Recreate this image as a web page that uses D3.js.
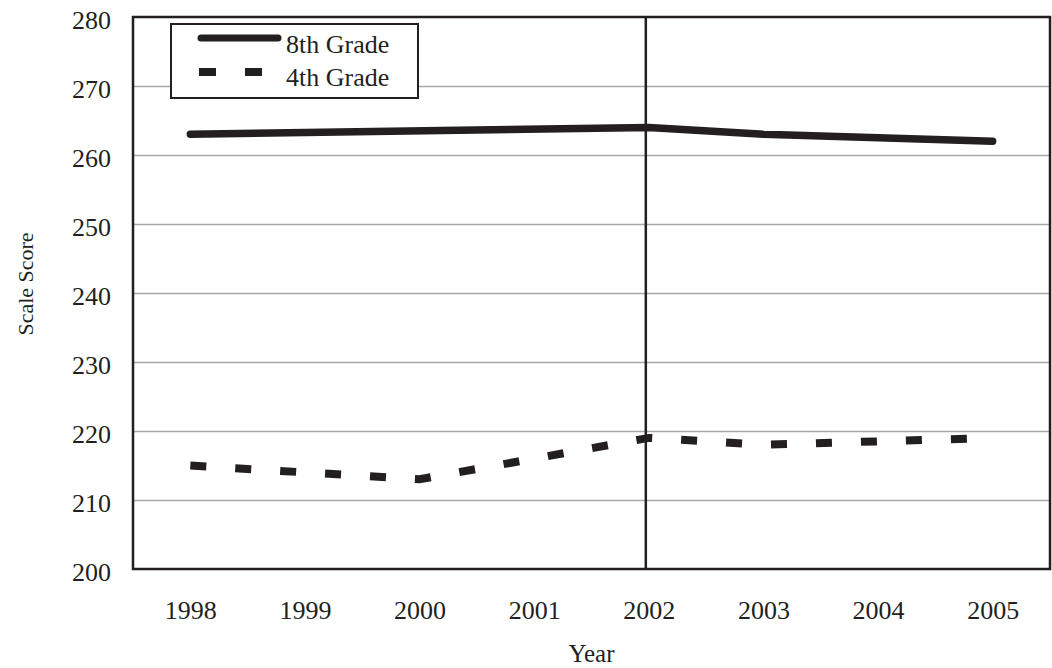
<!DOCTYPE html>
<html>
<head>
<meta charset="utf-8">
<script src="https://cdn.jsdelivr.net/npm/d3@7"></script>
<style>
  html, body { margin: 0; padding: 0; background: #fff; }
  svg { display: block; }
  svg text { font-family: "Liberation Serif", "Times New Roman", Times, "DejaVu Serif", serif; }
</style>
</head>
<body>
<script>
// data (null = year not assessed)
const years = ["1998", "1999", "2000", "2001", "2002", "2003", "2004", "2005"];
const grade8 = [263, null, null, null, 264, 263, null, 262];
const grade4 = [215, null, 213, null, 219, 218, null, 219];
const yTicks = [200, 210, 220, 230, 240, 250, 260, 270, 280];
const seriesNames = ["8th Grade", "4th Grade"];

const w = 1052;
const h = 668;
const plotLeft = 133, plotRight = 1050, plotTop = 17, plotBottom = 569;
const ink = "#231f20";
const serif = "'Liberation Serif', 'Times New Roman', Times, 'DejaVu Serif', serif";

const svg = d3.select("body")
  .append("svg")
  .attr("width", w)
  .attr("height", h)
  .attr("font-family", serif);

const xScale = d3.scalePoint()
  .domain(years)
  .range([plotLeft, plotRight])
  .padding(0.5);

const yScale = d3.scaleLinear()
  .domain([200, 280])
  .range([plotBottom, plotTop]);

// gridlines
svg.append("g")
  .attr("transform", "translate(" + plotLeft + ", 0)")
  .call(d3.axisLeft(yScale)
    .tickValues(yTicks.slice(1, -1))
    .tickSize(-(plotRight - plotLeft))
    .tickFormat(""))
  .call(g => g.select(".domain").remove())
  .call(g => g.selectAll("line").attr("stroke", "#a8a8a8").attr("stroke-width", 1.5));

// y axis labels
svg.append("g")
  .attr("id", "y-axis")
  .attr("transform", "translate(" + plotLeft + ", 0)")
  .call(d3.axisLeft(yScale).tickValues(yTicks).tickSize(0).tickPadding(22))
  .attr("font-family", serif)
  .attr("font-size", 26)
  .call(g => g.select(".domain").remove())
  .call(g => g.selectAll("text")
    .attr("dy", 11)
    .attr("fill", ink));

// x axis labels
svg.append("g")
  .attr("id", "x-axis")
  .attr("transform", "translate(0, " + plotBottom + ")")
  .call(d3.axisBottom(xScale).tickSize(0))
  .attr("font-family", serif)
  .attr("font-size", 26)
  .call(g => g.select(".domain").remove())
  .call(g => g.selectAll("text")
    .attr("y", 50)
    .attr("dy", null)
    .attr("fill", ink));

// vertical marker at 2002
svg.append("line")
  .attr("x1", xScale("2002") - 3)
  .attr("x2", xScale("2002") - 3)
  .attr("y1", plotTop)
  .attr("y2", plotBottom)
  .attr("stroke", ink)
  .attr("stroke-width", 2.5);

const line = d3.line()
  .x(d => xScale(d.year))
  .y(d => yScale(d.value));

const toPoints = (values) => years
  .map((year, i) => ({ year: year, value: values[i] }))
  .filter(d => d.value !== null);

svg.append("path")
  .datum(toPoints(grade8))
  .attr("d", line)
  .attr("fill", "none")
  .attr("stroke", ink)
  .attr("stroke-width", 7.5)
  .attr("stroke-linecap", "round")
  .attr("stroke-linejoin", "round");

svg.append("path")
  .datum(toPoints(grade4))
  .attr("d", line)
  .attr("fill", "none")
  .attr("stroke", ink)
  .attr("stroke-width", 8)
  .attr("stroke-dasharray", "16,29");

// plot frame
svg.append("rect")
  .attr("x", plotLeft)
  .attr("y", plotTop)
  .attr("width", plotRight - plotLeft)
  .attr("height", plotBottom - plotTop)
  .attr("fill", "none")
  .attr("stroke", ink)
  .attr("stroke-width", 2.5);

// axis titles
svg.append("text")
  .attr("x", (plotLeft + plotRight) / 2)
  .attr("y", 662)
  .attr("text-anchor", "middle")
  .attr("fill", ink)
  .attr("font-size", 25)
  .text("Year");

svg.append("text")
  .attr("transform", "translate(33, 284) rotate(-90)")
  .attr("text-anchor", "middle")
  .attr("fill", ink)
  .attr("font-size", 22)
  .text("Scale Score");

// legend
const legend = svg.append("g");
legend.append("rect")
  .attr("x", 171)
  .attr("y", 24)
  .attr("width", 247)
  .attr("height", 74)
  .attr("fill", "#fff")
  .attr("stroke", ink)
  .attr("stroke-width", 2);

legend.append("line")
  .attr("x1", 201).attr("x2", 278)
  .attr("y1", 38).attr("y2", 38)
  .attr("stroke", ink)
  .attr("stroke-width", 7)
  .attr("stroke-linecap", "round");

legend.append("line")
  .attr("x1", 199).attr("x2", 262)
  .attr("y1", 72).attr("y2", 72)
  .attr("stroke", ink)
  .attr("stroke-width", 8)
  .attr("stroke-dasharray", "17,29");

legend.selectAll("text.label")
  .data(seriesNames)
  .enter()
  .append("text")
  .attr("class", "label")
  .attr("x", 286)
  .attr("y", (d, i) => 53 + i * 33)
  .attr("fill", ink)
  .attr("font-size", 26)
  .text(d => d);
</script>
</body>
</html>
